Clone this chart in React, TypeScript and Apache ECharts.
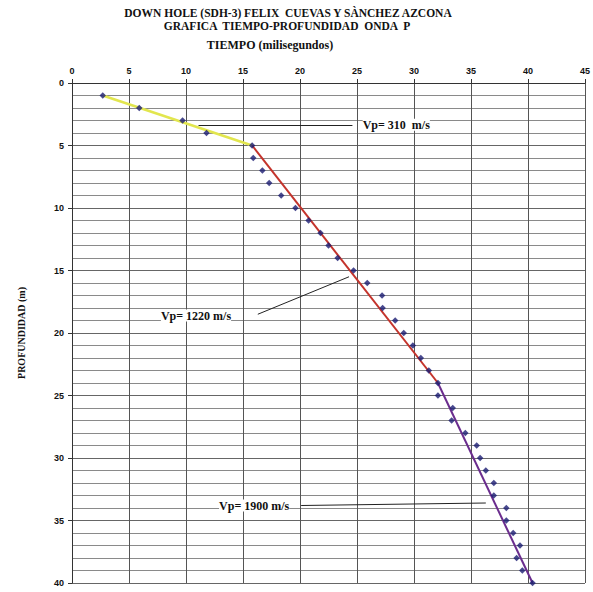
import React, { useEffect, useRef } from "react";
import * as echarts from "echarts";

// Depth (m) and first-arrival P-wave travel time (ms)
const depths = [
  1, 2, 3, 4, 5, 6, 7, 8, 9, 10, 11, 12, 13, 14, 15, 16, 17, 18, 19, 20,
  21, 22, 23, 24, 25, 26, 27, 28, 29, 30, 31, 32, 33, 34, 35, 36, 37, 38, 39, 40,
];
const times = [
  2.7, 5.9, 9.7, 11.8, 15.8, 15.9, 16.7, 17.3, 18.35, 19.6, 20.75, 21.8, 22.5, 23.3, 24.7,
  25.9, 27.2, 27.25, 28.35, 29.1, 29.9, 30.6, 31.3, 32.1, 32.1, 33.4, 33.3, 34.5, 35.5, 35.8,
  36.3, 37.0, 37.0, 38.1, 38.1, 38.7, 39.3, 39.0, 39.5, 40.4,
];

// Velocity layer fits: [time, depth] endpoints
const layer1 = [[2.7, 1], [15.8, 5]];
const layer2 = [[15.8, 5], [32.1, 24]];
const layer3 = [[32.1, 24], [40.4, 40]];

// Velocity labels, their left anchor and arrow [from, to], all in [time, depth]
const velLabels = ["Vp= 310  m/s", "Vp= 1220 m/s", "Vp= 1900 m/s"];
const velLabelPos = [[25.5, 3.34], [7.8, 18.6], [12.9, 33.8]];
const velArrows = [
  [[24.6, 3.34], [11.1, 3.34]],
  [[16.3, 18.5], [24.3, 15.5]],
  [[20.1, 33.8], [36.3, 33.6]],
];

const xTicks = ["0", "5", "10", "15", "20", "25", "30", "35", "40", "45"];

const serif = "'Liberation Serif', 'Times New Roman', serif";
const sans = "'Liberation Sans', Arial, sans-serif";

export default function App() {
  const ref = useRef<HTMLDivElement>(null);

  useEffect(() => {
    if (!ref.current) return;
    const chart = echarts.init(ref.current, null, { renderer: "svg" });

    const points = depths.map((d, i) => [times[i], d]);

    chart.setOption({
      animation: false,
      backgroundColor: "#ffffff",
      grid: { left: 72, top: 83, right: 4, bottom: 9 },
      xAxis: {
        type: "value",
        position: "top",
        min: 0,
        max: 45,
        interval: 5,
        axisLine: { show: true, lineStyle: { color: "#333", width: 1 } },
        axisTick: { show: true, length: 4, lineStyle: { color: "#333" } },
        axisLabel: {
          color: "#111",
          fontFamily: sans,
          fontWeight: "bold",
          fontSize: 9,
          margin: 8,
          formatter: (v: number) => xTicks[Math.round(v / 5)] ?? "",
        },
        splitLine: { show: true, lineStyle: { color: "#555", width: 1 } },
      },
      yAxis: {
        type: "value",
        inverse: true,
        min: 0,
        max: 40,
        interval: 5,
        name: "PROFUNDIDAD (m)",
        nameLocation: "middle",
        nameGap: 46,
        nameRotate: 90,
        nameTextStyle: { fontFamily: serif, fontWeight: "bold", fontSize: 10, color: "#111" },
        axisLine: { show: true, lineStyle: { color: "#333", width: 1 } },
        axisTick: { show: true, length: 4, lineStyle: { color: "#333" } },
        axisLabel: { color: "#111", fontFamily: sans, fontWeight: "bold", fontSize: 9, margin: 8 },
        splitLine: { show: true, lineStyle: { color: "#666", width: 1 } },
        minorTick: { show: false, splitNumber: 5 },
        minorSplitLine: { show: true, lineStyle: { color: "#8a8a8a", width: 1 } },
      },
      series: [
        {
          type: "line",
          data: layer1,
          symbol: "none",
          lineStyle: { color: "#e2e64e", width: 2.5 },
          z: 3,
        },
        {
          type: "line",
          data: layer2,
          symbol: "none",
          lineStyle: { color: "#c4342c", width: 2 },
          z: 3,
        },
        {
          type: "line",
          data: layer3,
          symbol: "none",
          lineStyle: { color: "#6b2d8e", width: 2 },
          z: 3,
        },
        {
          type: "scatter",
          data: points,
          symbol: "diamond",
          symbolSize: 6.5,
          itemStyle: { color: "#1a1c72" },
          z: 4,
          markLine: {
            silent: true,
            symbol: ["none", "arrow"],
            symbolSize: [0, 8],
            label: { show: false },
            lineStyle: { color: "#222", width: 1, type: "solid" },
            data: velArrows.map(([a, b]) => [{ coord: a }, { coord: b }]),
          },
        },
      ],
    });

    // Velocity labels placed in data space next to their arrows
    const toPx = (p: number[]) => chart.convertToPixel({ gridIndex: 0 }, p) as number[];
    const labelGraphics = velLabels.map((text, i) => {
      const pos = toPx(velLabelPos[i]);
      return {
        type: "text",
        x: pos[0],
        y: pos[1],
        z: 10,
        style: {
          text,
          fill: "#111",
          font: `bold 12px ${serif}`,
          textAlign: "left",
          textVerticalAlign: "middle",
          backgroundColor: "#ffffff",
        },
      };
    });

    chart.setOption({
      graphic: [
        {
          type: "text",
          x: 288,
          y: 13,
          style: {
            text: "DOWN HOLE (SDH-3) FELIX  CUEVAS Y SÀNCHEZ AZCONA",
            fill: "#111",
            font: `bold 11.5px ${serif}`,
            textAlign: "center",
            textVerticalAlign: "middle",
          },
        },
        {
          type: "text",
          x: 287,
          y: 26,
          style: {
            text: "GRAFICA  TIEMPO-PROFUNDIDAD  ONDA  P",
            fill: "#111",
            font: `bold 11.5px ${serif}`,
            textAlign: "center",
            textVerticalAlign: "middle",
          },
        },
        {
          type: "text",
          x: 270,
          y: 45,
          style: {
            text: "TIEMPO (milisegundos)",
            fill: "#111",
            font: `bold 12px ${serif}`,
            textAlign: "center",
            textVerticalAlign: "middle",
          },
        },
        ...labelGraphics,
      ],
    });

    return () => chart.dispose();
  }, []);

  return (
    <div
      ref={ref}
      style={{ position: "absolute", left: 0, top: 0, width: 593, height: 592 }}
    />
  );
}
